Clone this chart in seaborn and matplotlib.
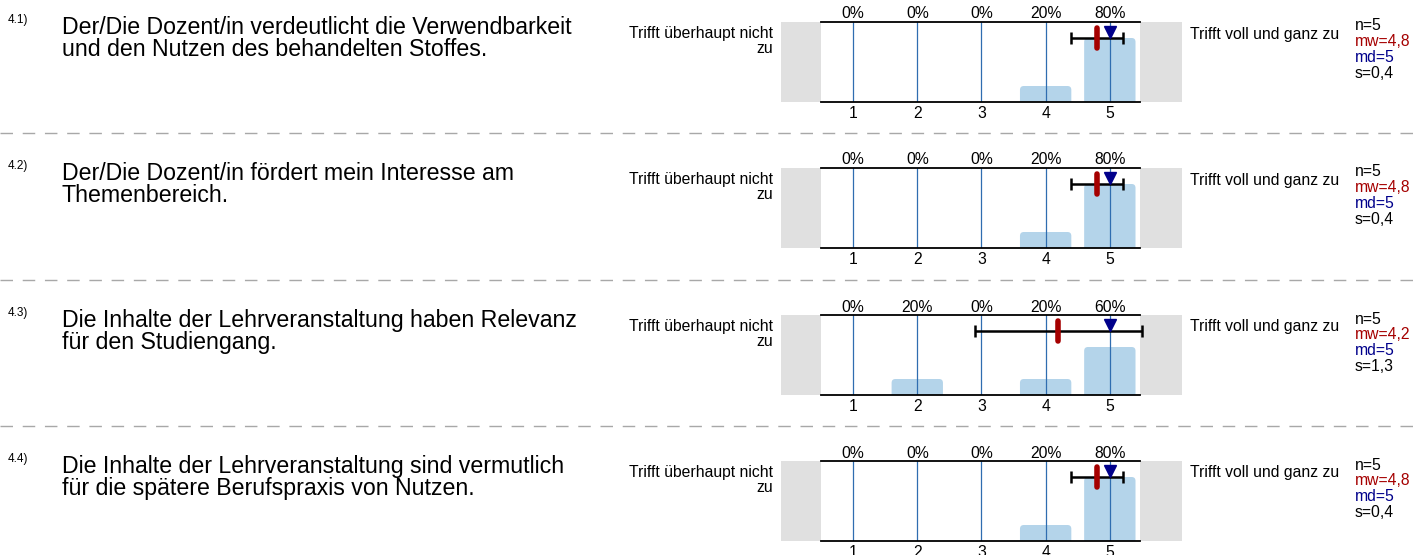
"""
Lehrevaluation - Block 4: Relevanz und Nutzen
Histogramm je Frage mit Mittelwert, Median und Standardabweichung.
"""

import matplotlib
matplotlib.use("Agg")
import matplotlib.pyplot as plt
import pandas as pd
import seaborn as sns
from matplotlib.patches import FancyBboxPatch, Rectangle
from matplotlib.lines import Line2D

sns.set_theme(style="white")
plt.rcParams["font.family"] = ["Liberation Sans", "DejaVu Sans"]
plt.rcParams["text.color"] = "black"
plt.rcParams["xtick.color"] = "black"

# ---- data -------------------------------------------------------------
ITEM_IDS = ["4.1)", "4.2)", "4.3)", "4.4)"]
QUESTIONS = [
    "Der/Die Dozent/in verdeutlicht die Verwendbarkeit\nund den Nutzen des behandelten Stoffes.",
    "Der/Die Dozent/in fördert mein Interesse am\nThemenbereich.",
    "Die Inhalte der Lehrveranstaltung haben Relevanz\nfür den Studiengang.",
    "Die Inhalte der Lehrveranstaltung sind vermutlich\nfür die spätere Berufspraxis von Nutzen.",
]
SCALE = [1, 2, 3, 4, 5]
PCT_41 = [0, 0, 0, 20, 80]
PCT_42 = [0, 0, 0, 20, 80]
PCT_43 = [0, 20, 0, 20, 60]
PCT_44 = [0, 0, 0, 20, 80]
N_VALUES = [5, 5, 5, 5]
MEANS = [4.8, 4.8, 4.2, 4.8]
MEDIANS = [5, 5, 5, 5]
STDS = [0.4, 0.4, 1.3, 0.4]
LEFT_LABEL = "Trifft überhaupt nicht\nzu"
RIGHT_LABEL = "Trifft voll und ganz zu"

# ---- layout (pixels) --------------------------------------------------
W, H = 1415, 555
AX_LEFT, AX_W, AX_H = 821, 319, 80
ROW_TOPS = [22, 168, 315, 461]
SEP_Y = [133, 280, 426]
BAR_COLOR = "#b4d4ea"
GRID_COLOR = "#2f6db0"
MEAN_COLOR = "#a50000"
MED_COLOR = "#00008b"
FS = 11.3


def fx(px):
    return px / W


def fy(py):
    return 1 - py / H


def fmt(v):
    return f"{v:g}".replace(".", ",")


def draw_item(fig, top, item_id, question, pct, n, mw, md, s):
    ax = fig.add_axes([fx(AX_LEFT), fy(top + AX_H), AX_W / W, AX_H / H])

    df = pd.DataFrame({"wert": SCALE, "prozent": pct})
    sns.barplot(data=df, x="wert", y="prozent", native_scale=True, width=0.8,
                color=BAR_COLOR, saturation=1, ax=ax, zorder=1)

    # rounded bar tops
    bars = [p for p in ax.patches if isinstance(p, Rectangle)]
    for p in bars:
        if p.get_height() > 0:
            x, w, h = p.get_x(), p.get_width(), p.get_height()
            ax.add_patch(FancyBboxPatch((x, -10), w, h + 10,
                                        boxstyle="round,pad=0,rounding_size=0.06",
                                        mutation_aspect=80, fc=BAR_COLOR, ec="none",
                                        zorder=1))
        p.set_visible(False)

    # grey side boxes
    for x0, w in [(-0.1254, 0.1254), (1.0, 0.1317)]:
        ax.add_patch(Rectangle((x0, 0), w, 1, transform=ax.transAxes,
                               color="#e0e0e0", lw=0, clip_on=False, zorder=0))

    ax.set_xlim(0.5, 5.47)
    ax.set_ylim(0, 100)
    for v in SCALE:
        ax.axvline(v, color=GRID_COLOR, lw=0.9, zorder=2)

    # mean / std / median
    ax.errorbar(mw, 80, xerr=s, color="black", lw=1.8, capsize=4, capthick=1.8,
                zorder=4, clip_on=False)
    ax.add_line(Line2D([mw, mw], [68, 93], color=MEAN_COLOR, lw=4,
                       solid_capstyle="round", zorder=5))
    ax.plot(md, 88, marker="v", color=MED_COLOR, markersize=8, zorder=6)

    ax.set_xticks(SCALE)
    ax.set_xticklabels([str(v) for v in SCALE], fontsize=FS)
    ax.tick_params(axis="x", length=0, pad=3)
    ax.set_yticks([])
    ax.set_xlabel("")
    ax.set_ylabel("")
    for side in ["left", "right"]:
        ax.spines[side].set_visible(False)
    for side in ["top", "bottom"]:
        ax.spines[side].set_color("black")
        ax.spines[side].set_linewidth(1.3)
    for v, p in zip(SCALE, pct):
        ax.text(v, 1.1, f"{p}%", transform=ax.get_xaxis_transform(),
                ha="center", va="center", fontsize=FS)

    # texts around
    fig.text(fx(8), fy(top - 2), item_id, fontsize=8.5, va="center")
    fig.text(fx(62), fy(top - 6), question, fontsize=16.7, va="top", linespacing=0.92)
    fig.text(fx(773), fy(top + 19), LEFT_LABEL, fontsize=FS, ha="right",
             va="center", linespacing=1.07)
    fig.text(fx(1190), fy(top + 12), RIGHT_LABEL, fontsize=FS, va="center")
    stats = [(f"n={n}", "black"), (f"mw={fmt(mw)}", MEAN_COLOR),
             (f"md={md}", MED_COLOR), (f"s={fmt(s)}", "black")]
    for i, (txt, col) in enumerate(stats):
        fig.text(fx(1355), fy(top + 4 + i * 15.7), txt, fontsize=FS, color=col,
                 va="center")


def main():
    fig = plt.figure(figsize=(W / 100, H / 100), dpi=100)
    pcts = [PCT_41, PCT_42, PCT_43, PCT_44]
    for i in range(4):
        draw_item(fig, ROW_TOPS[i], ITEM_IDS[i], QUESTIONS[i], pcts[i],
                  N_VALUES[i], MEANS[i], MEDIANS[i], STDS[i])
    for y in SEP_Y:
        fig.add_artist(Line2D([0, 1], [fy(y), fy(y)], color="#a8a8a8", lw=1,
                              dashes=(9, 7), transform=fig.transFigure))
    fig.savefig("out.png", dpi=100)


if __name__ == "__main__":
    main()
